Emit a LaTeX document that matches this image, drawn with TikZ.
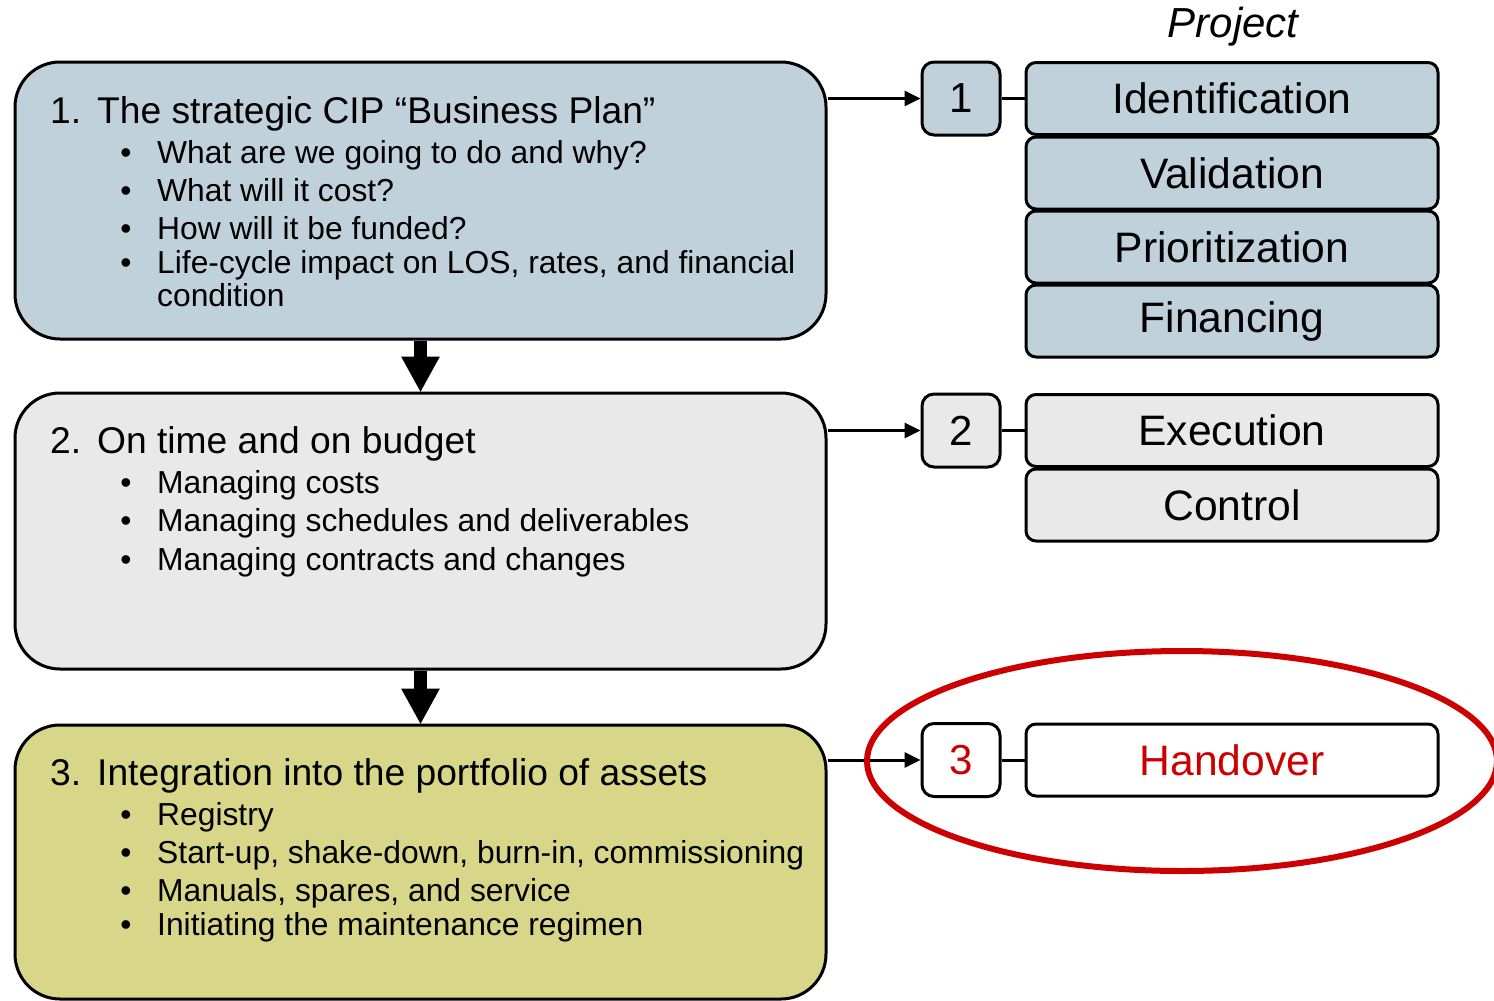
\documentclass[tikz,border=0pt]{standalone}
\usepackage{fontspec}
\setmainfont{Liberation Sans}
\usetikzlibrary{arrows.meta}
\definecolor{stageblue}{HTML}{C0D1DB}
\definecolor{stagegray}{HTML}{E9E9E9}
\definecolor{stageolive}{HTML}{D8D689}
\definecolor{markred}{HTML}{CC0000}
\tikzset{
  stagebox/.style={draw=black, line width=3pt, rounded corners=45pt, inner sep=0pt,
    minimum width=811pt},
  numbox/.style={draw=black, line width=3pt, rounded corners=12pt, inner sep=0pt,
    minimum width=78pt, minimum height=73pt, font=\fontsize{42}{48}\selectfont},
  phasebox/.style={draw=black, line width=3pt, rounded corners=10pt, inner sep=0pt,
    minimum width=412pt, minimum height=72pt, font=\fontsize{42.6}{48}\selectfont},
  headtxt/.style={anchor=base west, inner sep=0pt, font=\fontsize{37.2}{44}\selectfont},
  bultxt/.style={anchor=base west, inner sep=0pt, font=\fontsize{31.8}{38}\selectfont},
  dot/.style={anchor=base, inner sep=0pt, font=\fontsize{31.8}{38}\selectfont},
  flowarrow/.style={line width=3pt, -{Triangle[length=16pt,width=15pt]}},
  bigarrow/.style={line width=13pt, -{Triangle[length=36pt,width=36pt]}},
  link/.style={line width=3pt}
}
\begin{document}
\begin{tikzpicture}[x=1pt,y=-1pt]
\useasboundingbox (0,0) rectangle (1494,1001);

% stage boxes on the left
\node[stagebox, fill=stageblue, minimum height=277pt] (b1) at (420.5,200.5) {};
\node[stagebox, fill=stagegray, minimum height=276pt] (b2) at (420.5,531) {};
\node[stagebox, fill=stageolive, minimum height=274pt] (b3) at (420.5,862) {};

% stage 1 text
\node[headtxt] (h1n) at (50,123) {1.};
\node[headtxt] (h1) at (97,123) {The strategic CIP “Business Plan”};
\foreach \yy/\tt [count=\i] in {163/{What are we going to do and why?},
    201/{What will it cost?}, 239/{How will it be funded?},
    273/{Life-cycle impact on LOS, rates, and financial}} {
  \node[dot] (d1\i) at (126,\yy) {•};
  \node[bultxt] (t1\i) at (157,\yy) {\tt};
}
\node[bultxt] (t1x) at (157,306) {condition};

% stage 2 text
\node[headtxt] (h2n) at (50,453) {2.};
\node[headtxt] (h2) at (97,453) {On time and on budget};
\foreach \yy/\tt [count=\i] in {493/{Managing costs},
    531/{Managing schedules and deliverables},
    570/{Managing contracts and changes}} {
  \node[dot] (d2\i) at (126,\yy) {•};
  \node[bultxt] (t2\i) at (157,\yy) {\tt};
}

% stage 3 text
\node[headtxt] (h3n) at (50,785) {3.};
\node[headtxt] (h3) at (97,785) {Integration into the portfolio of assets};
\foreach \yy/\tt [count=\i] in {825/{Registry},
    863/{Start-up, shake-down, burn-in, commissioning},
    901/{Manuals, spares, and service},
    935/{Initiating the maintenance regimen}} {
  \node[dot] (d3\i) at (126,\yy) {•};
  \node[bultxt] (t3\i) at (157,\yy) {\tt};
}

% downward arrows between stages
\draw[bigarrow] (b1.south) -- ([yshift=-1pt]b2.north);
\draw[bigarrow] (b2.south) -- ([yshift=-1pt]b3.north);

% project column
\node[inner sep=0pt, font=\fontsize{42}{48}\selectfont\itshape] (proj) at (1233,27) {Project};

\node[numbox, fill=stageblue] (n1) at (961,98.5) {1};
\node[phasebox, fill=stageblue] (p11) at (1232,98.5) {Identification};
\node[phasebox, fill=stageblue] (p12) at (1232,173) {Validation};
\node[phasebox, fill=stageblue] (p13) at (1232,247) {Prioritization};
\node[phasebox, fill=stageblue] (p14) at (1232,321) {Financing};

\node[numbox, fill=stagegray] (n2) at (961,430.5) {2};
\node[phasebox, fill=stagegray] (p21) at (1232,430.5) {Execution};
\node[phasebox, fill=stagegray] (p22) at (1232,505) {Control};

\node[numbox, fill=white, text=markred] (n3) at (961,760) {3};
\node[phasebox, fill=white, text=markred] (p31) at (1232,760) {Handover};

% connectors from stages to project phases
\draw[flowarrow] (b1.east |- n1.west) -- (n1.west);
\draw[flowarrow] (b2.east |- n2.west) -- (n2.west);
\draw[flowarrow] (b3.east |- n3.west) -- (n3.west);
\draw[link] (n1.east) -- (p11.west);
\draw[link] (n2.east) -- (p21.west);
\draw[link] (n3.east) -- (p31.west);

% highlight around the handover step
\draw[markred, line width=6pt] (1182,761) ellipse [x radius=315pt, y radius=110pt];
\end{tikzpicture}
\end{document}
